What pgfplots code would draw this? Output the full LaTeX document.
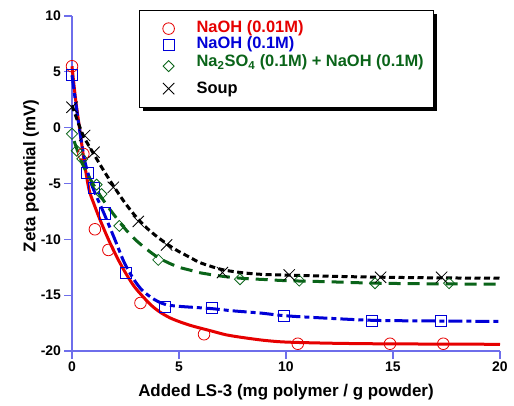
\documentclass[border=0pt]{standalone}
\usepackage{fontspec}
\setmainfont{Liberation Sans}
\usepackage{pgfplots}
\pgfplotsset{compat=1.18}
\usetikzlibrary{shadows}
\definecolor{axblue}{RGB}{110,110,235}
\definecolor{cred}{RGB}{230,0,0}
\definecolor{cblue}{RGB}{0,0,215}
\definecolor{cgreen}{RGB}{10,100,25}
\begin{document}
\begin{tikzpicture}
\begin{axis}[
  at={(0,0)}, anchor=south west,
  scale only axis, width=428bp, height=335bp,
  xmin=0, xmax=20, ymin=-20, ymax=10,
  axis lines=left,
  axis line style={-, draw=axblue, line width=1.3bp},
  xtick={0,5,...,20}, ytick={-20,-15,...,10},
  tick align=outside, major tick length=7.5bp,
  tick style={draw=axblue, line width=1.3bp},
  ticklabel style={font=\fontsize{14}{16}\selectfont\bfseries},
  /pgf/number format/assume math mode=true,
  clip=false,
  xlabel={Added LS-3 (mg polymer / g powder)},
  ylabel={Zeta potential (mV)},
  label style={font=\fontsize{17}{20}\selectfont\bfseries},
  xlabel style={at={(axis description cs:0.5,-0.137)}, anchor=base},
  ylabel style={at={(axis description cs:-0.0958,0.523)}, anchor=center},
  legend style={at={(axis description cs:0.1565,1.018)}, anchor=north west,
    draw=black, line width=1.3bp, fill=white,
    inner xsep=10bp, inner ysep=10bp,
    row sep=0pt, column sep=0pt,
    nodes={inner sep=0pt, text depth=},
    font=\fontsize{16.5}{18}\selectfont\bfseries,
    drop shadow={shadow xshift=3.5bp, shadow yshift=-3.5bp, fill=black, opacity=1}},
  legend cell align=left,
  legend image code/.code={%
    \pgfpathrectangle{\pgfpoint{0bp}{-1bp}}{\pgfpoint{47bp}{2bp}}\pgfusepath{use as bounding box}%
    \draw[#1] plot coordinates {(19bp,0bp)};},
]
% fitted curves
\addplot[forget plot, cred, line width=3bp, smooth] coordinates {
(0,5.5)(0.17,2.5)(0.35,0)(0.56,-2.9)(0.79,-5.5)(1.0,-6.7)(1.3,-8.2)(1.7,-10.0)(2.1,-11.6)
(2.5,-13.0)(2.9,-14.2)(3.3,-15.1)(3.7,-15.9)(4.1,-16.5)(4.6,-17.05)(5.2,-17.5)(5.7,-17.8)
(6.5,-18.2)(7.2,-18.55)(8,-18.8)(9,-19.05)(10,-19.2)(12,-19.3)(14,-19.35)(17,-19.38)(20,-19.4)};
\addplot[forget plot, cblue, line width=3bp, smooth, dash pattern=on 14bp off 4bp on 5bp off 4bp] coordinates {
(0,4.7)(0.3,0.5)(0.6,-3.0)(0.9,-5.0)(1.2,-6.4)(1.5,-7.7)(2.0,-10.0)(2.4,-11.9)(2.7,-13.0)
(3.0,-13.9)(3.3,-14.6)(3.7,-15.2)(4.0,-15.55)(4.4,-15.85)(5.0,-16.0)(6.5,-16.2)(7.5,-16.4)
(8.8,-16.6)(10,-16.85)(12,-17.07)(14,-17.25)(16,-17.3)(20,-17.35)};
\addplot[forget plot, cgreen, line width=3bp, smooth, dash pattern=on 12bp off 7bp] coordinates {
(0.1,-1.2)(0.5,-3.3)(1.0,-5.1)(1.5,-6.6)(2.0,-7.9)(2.5,-9.1)(3.0,-10.1)(3.5,-10.9)(4.0,-11.6)
(4.5,-12.1)(5.0,-12.5)(5.5,-12.75)(6.0,-13.0)(7.0,-13.3)(8.0,-13.5)(9.0,-13.6)(10,-13.7)
(12,-13.8)(14,-13.92)(16,-13.97)(20,-14.02)};
\addplot[forget plot, black, line width=3bp, smooth, dash pattern=on 6bp off 3.5bp] coordinates {
(0,2.0)(0.5,-0.6)(1.0,-2.3)(1.5,-3.9)(2.0,-5.4)(2.5,-6.8)(3.0,-8.0)(3.5,-9.0)(4.0,-9.8)
(4.5,-10.5)(5.0,-11.1)(5.5,-11.6)(6.0,-12.1)(7.0,-12.7)(8.0,-13.0)(9.0,-13.15)(10,-13.2)
(12,-13.3)(14,-13.38)(17,-13.45)(20,-13.48)};
% measured points
\addplot[only marks, mark=o, mark size=5.8bp, draw=cred, line width=0.8bp] coordinates {
(0,5.5)(0.53,-2.35)(1.07,-9.1)(1.7,-10.95)(3.2,-15.7)(6.17,-18.5)(10.55,-19.35)(14.86,-19.35)(17.35,-19.35)};
\addlegendentry{\textcolor{cred}{\rule[-4bp]{0pt}{16bp}NaOH (0.01M)}}
\addplot[only marks, mark=square, mark size=5.6bp, draw=cblue, line width=0.8bp] coordinates {
(0,4.72)(0.72,-4.05)(1.02,-5.4)(1.54,-7.67)(2.52,-12.98)(4.35,-16.02)(6.53,-16.17)(9.91,-16.86)(14.0,-17.3)(17.24,-17.3)};
\addlegendentry{\textcolor{cblue}{\rule[-4bp]{0pt}{16bp}NaOH (0.1M)}}
\addplot[only marks, mark=square, mark size=3.9bp, mark options={rotate=45}, draw=cgreen, line width=0.8bp] coordinates {
(0,-0.55)(0.22,-2.06)(0.48,-2.8)(1.15,-5.1)(1.38,-5.95)(2.21,-8.8)(4.03,-11.84)(7.85,-13.57)(10.62,-13.7)(14.16,-13.93)(17.62,-13.93)};
\addlegendentry{\textcolor{cgreen}{\rule[-13bp]{0pt}{27bp}Na\textsubscript{2}SO\textsubscript{4} (0.1M) + NaOH (0.1M)}}
\addplot[only marks, mark=x, mark size=8bp, draw=black, line width=0.8bp] coordinates {
(0,1.83)(0.59,-0.7)(1.03,-2.2)(1.93,-5.34)(3.1,-8.4)(4.42,-10.5)(7.03,-12.98)(10.15,-13.19)(14.42,-13.4)(17.27,-13.4)};
\addlegendentry{\rule[-4bp]{0pt}{18bp}Soup}
\end{axis}
\pgfresetboundingbox
\path[use as bounding box] (-72bp,-55bp) rectangle (442bp,351bp);
\end{tikzpicture}
\end{document}
